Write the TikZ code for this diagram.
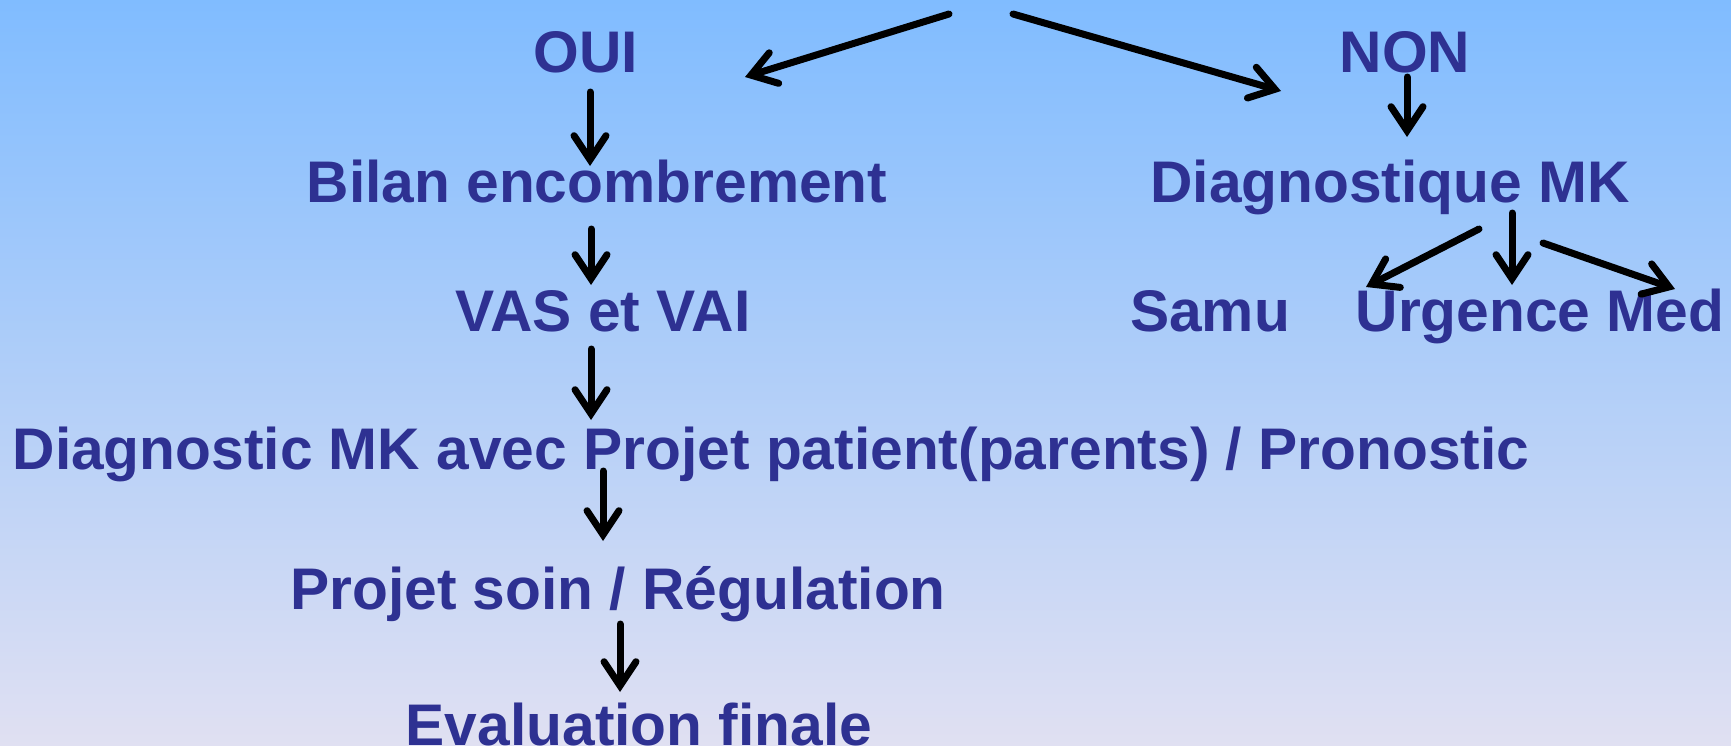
\documentclass[tikz,border=0pt]{standalone}
\usepackage{fontspec}
\setmainfont{Liberation Sans}
\usetikzlibrary{arrows.meta,calc}
\definecolor{txt}{RGB}{46,49,146}
\definecolor{bgtop}{RGB}{128,188,255}
\definecolor{bgbot}{RGB}{224,224,242}
\tikzset{
  lbl/.style={anchor=base,inner sep=0pt,text=txt,font=\fontsize{58.7}{60}\selectfont\bfseries},
  arr/.style={line width=7pt,line cap=round,-{Straight Barb[length=24pt,width=32pt,line cap=round,line join=miter]}}
}
\begin{document}
\begin{tikzpicture}[x=1pt,y=-1pt]
\useasboundingbox (0,0) rectangle (1731,745);
\shade[top color=bgtop,bottom color=bgbot] (0,0) rectangle (1731,745);
\node[lbl] (oui) at (586,72) {OUI};
\node[lbl] (non) at (1405,72) {NON};
\node[lbl] (bilan) at (597,202) {Bilan encombrement};
\node[lbl] (diag) at (1390,202) {Diagnostique MK};
\node[lbl] (vas) at (603,331) {VAS et VAI};
\node[lbl] (samu) at (1210,331) {Samu};
\node[lbl] (urg) at (1540,331) {Urgence Med};
\node[lbl] (dmk) at (771,469) {Diagnostic MK avec Projet patient(parents) / Pronostic};
\node[lbl] (proj) at (618,609) {Projet soin / Régulation};
\node[lbl] (eval) at (639,745) {Evaluation finale};
\coordinate (top1) at (949,14);
\coordinate (top2) at (1013,14);
\draw[arr] (top1) -- ($(oui.base)+(159,5)$);
\draw[arr] (top2) -- ($(non.base)+(-124,19)$);
\draw[arr] ($(oui.base)+(4,20)$) -- ($(bilan.base)+(-7,-36)$);
\draw[arr] ($(non.base)+(2,5)$) -- ($(diag.base)+(17,-65)$);
\draw[arr] ($(bilan.base)+(-6,27)$) -- ($(vas.base)+(-12,-46)$);
\draw[arr] ($(diag.base)+(89,27)$) -- ($(samu.base)+(156,-44)$);
\draw[arr] ($(diag.base)+(122,11)$) -- ($(urg.base)+(-28,-46)$);
\draw[arr] ($(diag.base)+(153,41)$) -- ($(urg.base)+(135,-42)$);
\draw[arr] ($(vas.base)+(-12,18)$) -- ($(dmk.base)+(-180,-49)$);
\draw[arr] ($(dmk.base)+(-168,2)$) -- ($(proj.base)+(-15,-68)$);
\draw[arr] ($(proj.base)+(2,15)$) -- ($(eval.base)+(-19,-53)$);
\end{tikzpicture}
\end{document}
